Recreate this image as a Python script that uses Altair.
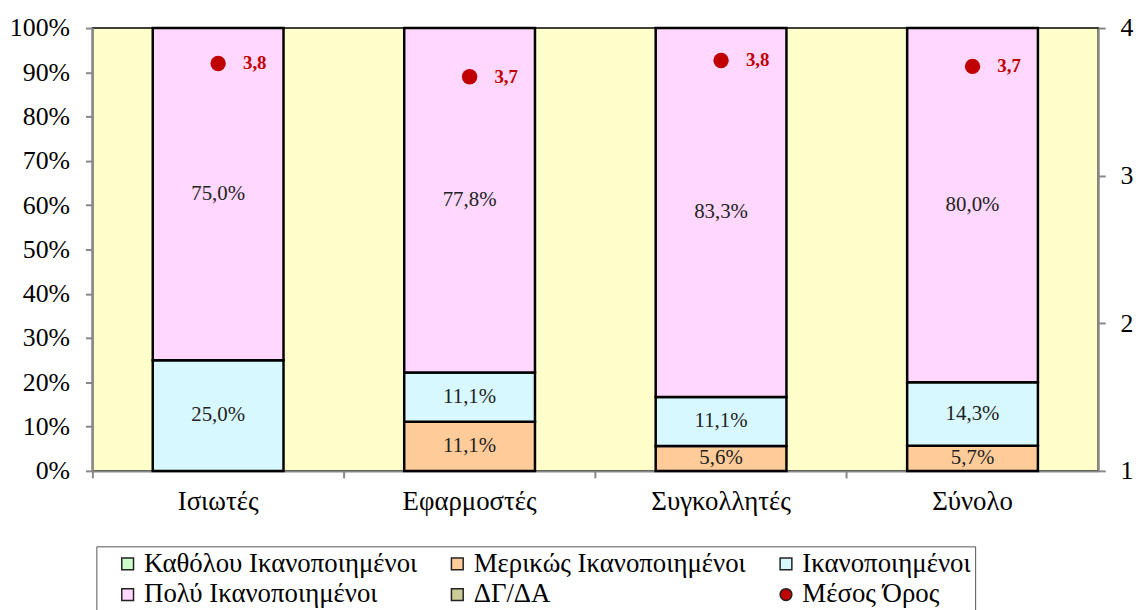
import altair as alt
import pandas as pd

groups = ["Ισιωτές", "Εφαρμοστές", "Συγκολλητές", "Σύνολο"]
categories = ["Καθόλου Ικανοποιημένοι", "Μερικώς Ικανοποιημένοι", "Ικανοποιημένοι",
              "Πολύ Ικανοποιημένοι", "ΔΓ/ΔΑ"]
mean_name = "Μέσος Όρος"

katholou = [0.0, 0.0, 0.0, 0.0]
merikos = [0.0, 11.1, 5.6, 5.7]
ikanop = [25.0, 11.1, 11.1, 14.3]
poly = [75.0, 77.8, 83.3, 80.0]
dgda = [0.0, 0.0, 0.0, 0.0]
means = [3.76, 3.67, 3.78, 3.74]

color_of = {"Καθόλου Ικανοποιημένοι": "#CCFFCC", "Μερικώς Ικανοποιημένοι": "#FFCC99",
            "Ικανοποιημένοι": "#D7F8FF", "Πολύ Ικανοποιημένοι": "#FFD7FF",
            "ΔΓ/ΔΑ": "#CCCC99", "Μέσος Όρος": "#C00000"}

series = [katholou, merikos, ikanop, poly, dgda]
rows = []
for ci, (cat, vals) in enumerate(zip(categories, series)):
    for g, v in zip(groups, vals):
        if v > 0:
            rows.append({"group": g, "cat": cat, "ord": ci, "pct": v,
                         "label": f"{v:.1f}".replace(".", ",") + "%"})
df = pd.DataFrame(rows)
mdf = pd.DataFrame({"group": groups, "cat": [mean_name] * 4, "mean": means,
                    "mlabel": [f"{m:.1f}".replace(".", ",") for m in means]})

FONT = "Liberation Serif, Times New Roman, serif"
# legend is filled column by column: order so rows read like the original
all_names = categories + [mean_name]
legend_order = [all_names[i] for i in (0, 3, 1, 4, 2, 5)]
colors = [color_of[n] for n in legend_order]
shapes = ["circle" if n == mean_name else "square" for n in legend_order]
xscale = alt.Scale(domain=groups, paddingInner=0.48, paddingOuter=0.24)

pad = "\u00a0" * 40
legend = alt.Legend(orient="none", legendX=4, legendY=522, columns=3, title=None,
                    labelFont=FONT, labelFontSize=27, labelColor="black",
                    labelExpr=f"(datum.label == 'Ικανοποιημένοι' || datum.label == 'Μέσος Όρος') ? datum.label + '{pad}' : datum.label",
                    symbolSize=140, symbolStrokeColor="#222", symbolStrokeWidth=1.5,
                    strokeColor="#555", padding=4, rowPadding=3, columnPadding=12,
                    symbolOffset=14, labelOffset=3, labelLimit=900)

bars = alt.Chart(df).mark_bar(stroke="black", strokeWidth=2.5).encode(
    x=alt.X("group:N", sort=groups, scale=xscale, title=None,
            axis=alt.Axis(orient="bottom", labelAngle=0, ticks=False, labelFont=FONT,
                          labelFontSize=27, labelColor="black", labelPadding=18,
                          domainColor="#888", domainWidth=2)),
    y=alt.Y("pct:Q", stack="zero", scale=alt.Scale(domain=[0, 100]), title=None,
            axis=alt.Axis(values=list(range(0, 101, 10)), labelExpr="datum.value + '%'",
                          grid=False, labelFont=FONT, labelFontSize=26, labelColor="black",
                          tickColor="#888", tickSize=7, tickWidth=2, domainColor="#888",
                          domainWidth=2, labelPadding=16)),
    color=alt.Color("cat:N", scale=alt.Scale(domain=legend_order, range=colors), legend=legend),
    order=alt.Order("ord:Q"),
)

texts = alt.Chart(df).transform_stack(
    stack="pct", groupby=["group"], sort=[alt.SortField("ord")], as_=["y0", "y1"]
).transform_calculate(mid="(datum.y0 + datum.y1) / 2").mark_text(
    font=FONT, fontSize=21, color="#222"
).encode(
    x=alt.X("group:N", sort=groups, scale=xscale, title=None,
            axis=alt.Axis(orient="bottom", labels=False, ticks=True, bandPosition=-0.4615,
                          tickColor="#888", tickSize=7, tickWidth=2, domain=False)),
    y=alt.Y("mid:Q", scale=alt.Scale(domain=[0, 100]), axis=None),
    text="label:N",
)

points = alt.Chart(mdf).mark_point(filled=True, size=240, opacity=1).encode(
    x=alt.X("group:N", sort=groups, scale=xscale, axis=None),
    y=alt.Y("mean:Q", scale=alt.Scale(domain=[1, 4]), title=None,
            axis=alt.Axis(orient="right", values=[1, 2, 3, 4], format="d", grid=False,
                          labelFont=FONT, labelFontSize=26, labelColor="black",
                          tickColor="#888", tickSize=7, tickWidth=2, domainColor="#888",
                          domainWidth=2, labelPadding=15)),
    color=alt.Color("cat:N", scale=alt.Scale(domain=legend_order, range=colors), legend=legend),
    shape=alt.Shape("cat:N", scale=alt.Scale(domain=legend_order, range=shapes), legend=legend),
)

mlabels = alt.Chart(mdf).mark_text(
    font=FONT, fontSize=19, fontWeight="bold", color="#C00000", align="left", dx=25
).encode(
    x=alt.X("group:N", sort=groups, scale=xscale, axis=None),
    y=alt.Y("mean:Q", scale=alt.Scale(domain=[1, 4]), axis=None),
    text="mlabel:N",
)

chart = alt.layer(bars, texts, points, mlabels).resolve_scale(
    y="independent"
).resolve_axis(x="independent").properties(
    width=1013, height=446, autosize="none",
    padding={"left": 85, "top": 18, "right": 38, "bottom": 150},
).configure_view(fill="#FFFFCC", stroke="black", strokeWidth=1.5)

chart.save("out.html", embed_options={"renderer": "svg", "actions": False})
